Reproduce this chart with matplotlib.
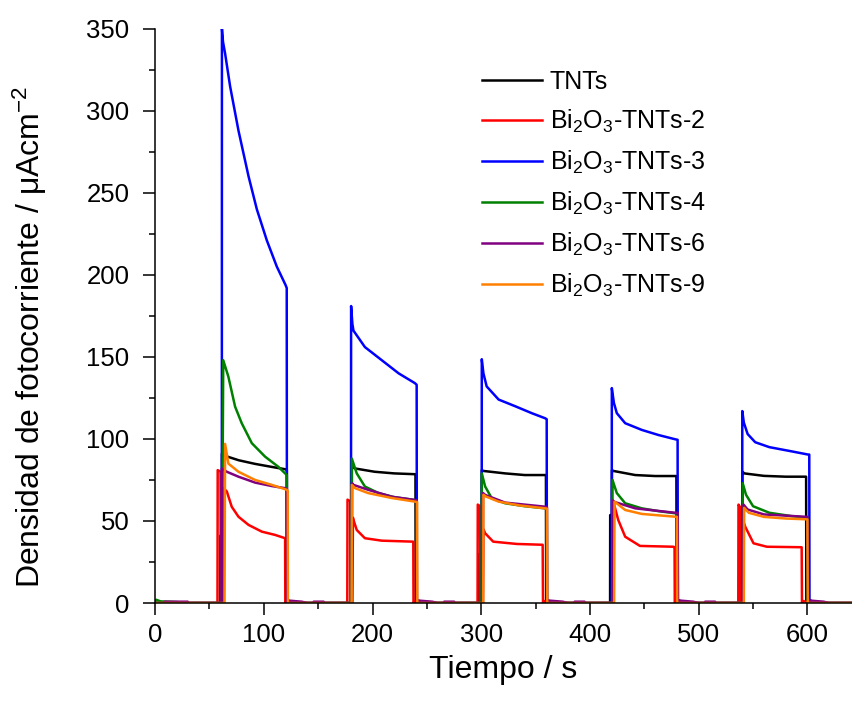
import matplotlib
matplotlib.use('Agg')
import matplotlib.pyplot as plt
from matplotlib.ticker import MultipleLocator

matplotlib.rc('font', family='Liberation Sans', size=18.5)
matplotlib.rc('mathtext', fontset='custom', rm='Liberation Sans', it='Liberation Sans:italic')

# --- data: time (s) and photocurrent (uA/cm2) ---
t_tnts = [0, 59.8, 59.9, 61.4, 61.5, 63, 77, 92, 107, 120, 121.2, 121.3, 122.5, 127,
          180.9, 181, 184, 202, 220, 239.5, 239.7, 241, 246,
          298, 298.1, 300.4, 300.5, 302, 322, 340, 359.5, 359.7, 361, 366,
          418.5, 418.6, 420.1, 420.2, 421.6, 441.6, 460, 479.5, 479.7, 481, 486,
          540.1, 540.2, 542, 560, 580, 598.8, 599, 600.5, 606, 640]
v_tnts = [0, 0, 41, 41, 91, 90, 87, 84.8, 83, 81.5, 81, 0, 1.2, 0,
          0, 83, 82, 80, 79, 78.5, 0, 1.2, 0,
          0, 30, 30, 81, 80.5, 79, 78, 78, 0, 1.2, 0,
          0, 53.6, 53.6, 81, 80.5, 78, 77.4, 77.4, 0, 1.2, 0,
          0, 80, 79, 77.5, 77, 77, 0, 1.2, 0, 0]

t_bi2 = [0, 57.4, 57.6, 60.2, 60.4, 62.5, 63, 66, 70.5, 76.7, 86, 98.2, 110.4, 119.6, 119.8, 121, 126,
         176.8, 177, 179.5, 179.7, 181.5, 182, 182.5, 185.5, 193, 208.5, 237.5, 237.7, 239, 244,
         296.6, 296.8, 299, 299.2, 301.5, 302, 303.6, 311, 332.7, 356.5, 356.8, 358, 363,
         421.5, 421.8, 426, 432.4, 446, 476.8, 477.8, 478, 479.5, 484,
         536.4, 536.6, 538.5, 538.7, 540.5, 541, 542.8, 550.4, 562.7, 594.7, 595, 596.5, 601, 640]
v_bi2 = [0, 0, 81, 80, 0, 0, 70, 68, 58.7, 52.6, 47.6, 43.5, 41.5, 39.5, 0, 1.2, 0,
         0, 63, 62, 0, 0, 52, 50.6, 44.5, 39.5, 38, 37.4, 0, 1.2, 0,
         0, 60, 59, 0, 0, 45, 42.5, 37.4, 36, 35.5, 0, 1.2, 0,
         0, 61, 50.6, 40.4, 34.8, 34.3, 34, 0, 1.2, 0,
         0, 60, 58, 0, 0, 50, 46.5, 36.4, 34.3, 34, 0, 1.2, 0, 0]

t_bi3 = [0, 61.4, 61.5, 62.5, 64.4, 69, 76.7, 86, 93.6, 102.8, 112, 119.9, 121.1, 121.3, 122.5, 127,
         180.2, 180.3, 181.5, 182.5, 193, 208.5, 224, 239, 240.6, 240.8, 242, 247,
         300.4, 300.5, 302, 305, 316, 331, 346.5, 358.8, 360.2, 360.4, 361.5, 366,
         420, 420.1, 422, 424.7, 432.4, 447.7, 463, 478.4, 480.6, 480.8, 482, 487,
         540, 540.1, 541.5, 545, 552, 565, 585, 600.5, 601.7, 601.9, 603, 608, 640]
v_bi3 = [0, 0, 350, 342, 335, 315, 288, 260, 240, 221, 205, 194, 192, 0, 1.5, 0,
         0, 181, 170, 166, 156, 148, 140, 134, 133, 0, 1.5, 0,
         0, 148.6, 140, 132, 124, 120, 115.7, 112.6, 112, 0, 1.5, 0,
         0, 131, 122, 115.7, 109.6, 105.5, 102.4, 99.8, 99.5, 0, 1.5, 0,
         0, 117, 110, 103, 98, 95, 92.5, 90.5, 90.5, 0, 1.5, 0, 0]

t_bi4 = [0, 1, 5, 20, 30, 61.5, 62.7, 67.4, 73.6, 79.7, 89, 101.2, 113.4, 119.6, 121.2, 121.4, 123, 128,
         180.5, 181, 185.5, 193, 205.5, 220, 239, 240.5, 240.7, 242, 247,
         300.3, 300.5, 303.6, 309.7, 322, 340, 358.8, 360.3, 360.5, 362, 367,
         420.4, 420.7, 424.7, 432.4, 447.7, 463, 478.4, 480.5, 480.7, 482, 487,
         540.3, 540.5, 543.5, 550, 565, 585, 600, 600.5, 602, 607, 640]
v_bi4 = [0, 2, 1, 0.6, 0, 0, 148, 138, 119.7, 109.6, 97.4, 89.2, 83, 79, 78, 0, 1.2, 0,
         0, 88, 79, 71, 67, 64.5, 62.8, 62.5, 0, 1.2, 0,
         0, 79, 71, 63.8, 60.8, 59, 57.7, 57.5, 0, 1.2, 0,
         0, 75, 67, 60.8, 57.7, 56, 54.7, 54.5, 0, 1.2, 0,
         0, 73, 66, 59, 55, 53, 52, 0, 1.2, 0, 0]

t_bi6 = [0, 8, 9, 30, 31, 61.3, 61.5, 66, 76.7, 92, 107.4, 119.6, 121, 121.3, 122.5, 135, 140, 145, 146, 155, 156,
         181, 181.2, 182.5, 196, 217.7, 239, 240.6, 240.8, 242, 255, 260, 265, 266, 275, 276,
         301.5, 301.7, 303.6, 322, 358.8, 360.4, 360.6, 362, 375, 380, 385, 386, 395, 396,
         421, 421.2, 421.6, 441.6, 478.4, 480.7, 481, 482.5, 495, 500, 505, 506, 515, 516,
         541, 541.2, 545, 560, 600, 600.8, 602, 615, 620, 640]
v_bi6 = [0, 0, 0.8, 0.8, 0, 0, 82, 80, 77, 73.4, 71.3, 70, 69.5, 0, 1.5, 0.8, 0, 0, 0.8, 0.8, 0,
         0, 73, 72, 69, 64.8, 62.8, 62.5, 0, 1.5, 0.8, 0, 0, 0.8, 0.8, 0,
         0, 67, 65.9, 61.2, 58.7, 58.5, 0, 1.5, 0.8, 0, 0, 0.8, 0.8, 0,
         0, 62.5, 61.8, 57.7, 55, 55, 0, 1.5, 0.8, 0, 0, 0.8, 0.8, 0,
         0, 60, 57, 54, 52.5, 0, 1.5, 0.8, 0, 0]

t_bi9 = [0, 63.9, 64.4, 67.4, 76.7, 92, 107.4, 121.2, 122, 122.2, 124,
         180.8, 181, 184, 196, 217.7, 239, 241, 241.2, 243,
         301.8, 302, 304, 316, 335, 358.8, 360.5, 360.7, 362.5,
         422.2, 422.6, 432.4, 447.7, 478.4, 480, 480.2, 482,
         541.5, 541.8, 546, 560, 580, 600, 600.3, 602, 640]
v_bi9 = [0, 0, 97, 85, 80, 75, 72, 69, 68.5, 0, 0,
         0, 72, 70, 67, 64, 61.8, 61.5, 0, 0,
         0, 66, 65, 61.8, 59.5, 57.7, 57.5, 0, 0,
         0, 61.8, 56.7, 54.3, 52.6, 52.5, 0, 0,
         0, 58, 55, 52.5, 51.5, 51, 0, 0, 0]

series = [
    (t_tnts, v_tnts, 'black', 'TNTs'),
    (t_bi2, v_bi2, '#ff0000', r'Bi$_\mathregular{2}$O$_\mathregular{3}$-TNTs-2'),
    (t_bi3, v_bi3, '#0000ff', r'Bi$_\mathregular{2}$O$_\mathregular{3}$-TNTs-3'),
    (t_bi4, v_bi4, '#008000', r'Bi$_\mathregular{2}$O$_\mathregular{3}$-TNTs-4'),
    (t_bi6, v_bi6, '#800080', r'Bi$_\mathregular{2}$O$_\mathregular{3}$-TNTs-6'),
    (t_bi9, v_bi9, '#ff8000', r'Bi$_\mathregular{2}$O$_\mathregular{3}$-TNTs-9'),
]

fig = plt.figure(figsize=(8.52, 7.02), dpi=100)
ax = fig.add_axes([0.182, 0.141, 0.818, 0.818])

for t, v, c, lab in series:
    ax.plot(t, v, color=c, lw=1.8, label=lab)

ax.set_xlim(0, 641)
ax.set_ylim(0, 350)
ax.xaxis.set_major_locator(MultipleLocator(100))
ax.xaxis.set_minor_locator(MultipleLocator(50))
ax.yaxis.set_major_locator(MultipleLocator(50))
ax.yaxis.set_minor_locator(MultipleLocator(25))
ax.tick_params(which='major', direction='out', length=8.5, width=1.1)
ax.tick_params(which='minor', direction='out', length=4.5, width=1.1)
ax.tick_params(axis='y', pad=10)
ax.tick_params(axis='x', pad=6)
for s in ['top', 'right']:
    ax.spines[s].set_visible(False)
for s in ['left', 'bottom']:
    ax.spines[s].set_linewidth(1.1)

ax.set_xlabel('Tiempo / s', fontsize=23)
ax.set_ylabel('Densidad de fotocorriente / μAcm$^{\\mathregular{-2}}$', fontsize=23)
ax.xaxis.set_label_coords(0.5, -0.09)
ax.yaxis.set_label_coords(-0.152, 0.463)

ax.legend(loc='upper left', bbox_to_anchor=(0.566, 0.9), bbox_transform=fig.transFigure,
          frameon=False, fontsize=18, handlelength=2.4, handletextpad=0.3,
          labelspacing=0.55, borderpad=0, borderaxespad=0)

plt.savefig('out.png', dpi=100)
